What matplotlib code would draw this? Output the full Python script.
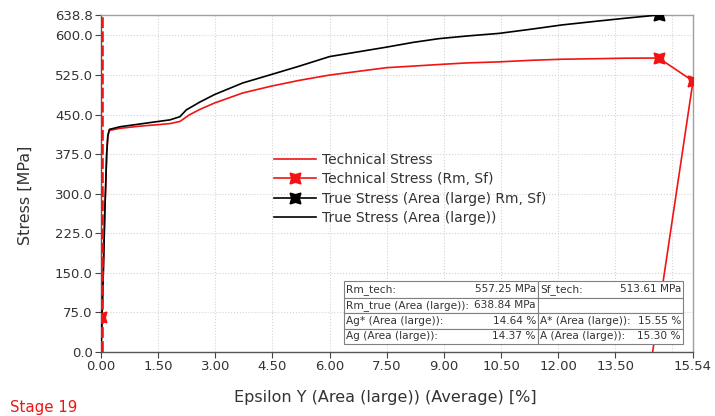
import matplotlib
matplotlib.use("Agg")
import matplotlib.pyplot as plt
from matplotlib.lines import Line2D
from matplotlib.patches import Rectangle

# ---------------- data ----------------
true_strain = [0, 0.03, 0.06, 0.10, 0.15, 0.18, 0.22, 0.5, 1.0, 1.5, 1.81, 2.07, 2.24, 2.6,
               2.98, 3.72, 4.47, 5.21, 6.0, 6.75, 7.5, 8.2, 8.87, 9.6, 10.45, 11.3, 12.1,
               13.0, 13.8, 14.64]
true_stress = [0, 75, 150, 265, 377, 410, 422, 427, 432, 437, 440, 446, 459, 474,
               488, 510, 526, 542, 560, 569, 578, 587, 594, 599, 604, 612, 620,
               627, 633, 638.84]

tech_strain = [0, 0.03, 0.06, 0.10, 0.15, 0.18, 0.22, 0.5, 1.0, 1.5, 1.81, 2.07, 2.33, 2.6,
               2.98, 3.72, 4.47, 5.21, 6.0, 6.75, 7.5, 8.2, 8.87, 9.6, 10.45, 11.3, 12.1,
               13.0, 13.8, 14.64]
tech_stress = [0, 75, 150, 265, 377, 410, 420, 424, 428, 431, 433, 437, 450, 460,
               472, 491, 504, 515, 525, 532, 539, 542, 545, 548, 550, 553, 555,
               556, 557, 557.25]

# Technical Stress (Rm, Sf): Rm -> Sf -> end of unloading line
rmsf_strain = [14.64, 15.54, 14.48]
rmsf_stress = [557.25, 513.61, 0]
start_marker_strain = [0.0]
start_marker_stress = [66]
true_rm_strain = [14.64]
true_rm_stress = [638.84]
dashed_strain = 0.02

x_ticks = [0, 1.5, 3.0, 4.5, 6.0, 7.5, 9.0, 10.5, 12.0, 13.5, 15.54]
x_grid = [1.5, 3.0, 4.5, 6.0, 7.5, 9.0, 10.5, 12.0, 13.5, 15.0]
y_ticks = [0, 75, 150, 225, 300, 375, 450, 525, 600, 638.84]
y_grid = [75, 150, 225, 300, 375, 450, 525, 600]

legend_labels = ["Technical Stress", "Technical Stress (Rm, Sf)",
                 "True Stress (Area (large) Rm, Sf)", "True Stress (Area (large))"]

table_rows = [
    ["Rm_tech:", "557.25 MPa", "Sf_tech:", "513.61 MPa"],
    ["Rm_true (Area (large)):", "638.84 MPa", "", ""],
    ["Ag* (Area (large)):", "14.64 %", "A* (Area (large)):", "15.55 %"],
    ["Ag (Area (large)):", "14.37 %", "A (Area (large)):", "15.30 %"],
]

# ---------------- style ----------------
RED = "#f01414"
TXT = "#333333"
plt.rcParams["font.family"] = ["DejaVu Sans"]

fig = plt.figure(figsize=(7.15, 4.16), dpi=100)
ax = fig.add_axes([101 / 715, 1 - 352 / 416, 592 / 715, 337 / 416])

for g in x_grid:
    ax.axvline(g, color="#d4d4d4", lw=0.8, ls=":", zorder=0)
for g in y_grid:
    ax.axhline(g, color="#d4d4d4", lw=0.8, ls=":", zorder=0)

mk = (4, 1, 45)
ax.plot(tech_strain, tech_stress, color=RED, lw=1.2, zorder=3)
ax.plot(true_strain, true_stress, color="black", lw=1.2, zorder=3)
ax.plot(rmsf_strain, rmsf_stress, color=RED, lw=1.2, marker=mk, markersize=11,
        markevery=[0, 1], zorder=4)
ax.plot(start_marker_strain, start_marker_stress, ls="none", color=RED, marker=mk,
        markersize=11, zorder=4)
ax.plot(true_rm_strain, true_rm_stress, ls="none", color="black", marker=mk,
        markersize=11, zorder=4)
ax.axvline(dashed_strain, color=RED, lw=2.6, ls=(0, (3, 0.9)), zorder=5)

ax.set_xlim(0, 15.54)
ax.set_ylim(0, 638.84)
ax.set_xticks(x_ticks)
ax.set_xticklabels([f"{v:.2f}" for v in x_ticks])
ax.set_yticks(y_ticks)
ax.set_yticklabels([f"{v:.1f}" for v in y_ticks])
ax.tick_params(axis="both", direction="out", length=4, width=0.8, colors="#444444",
               labelcolor=TXT, labelsize=9.5, pad=2)

for s in ["left", "bottom"]:
    ax.spines[s].set_color("#555555")
    ax.spines[s].set_linewidth(1.0)
for s in ["top", "right"]:
    ax.spines[s].set_color("#a0a0a0")
    ax.spines[s].set_linewidth(1.0)

ax.set_xlabel("Epsilon Y (Area (large)) (Average) [%]", fontsize=11.5, color=TXT)
ax.xaxis.set_label_coords(0.48, -0.113)
ax.set_ylabel("Stress [MPa]", fontsize=11.5, color=TXT)
ax.yaxis.set_label_coords(-0.115, 0.466)

handles = [
    Line2D([], [], color=RED, lw=1.2),
    Line2D([], [], color=RED, lw=1.2, marker=mk, markersize=11),
    Line2D([], [], color="black", lw=1.2, marker=mk, markersize=11),
    Line2D([], [], color="black", lw=1.2),
]
fig.legend(handles, legend_labels, loc="upper left", bbox_to_anchor=(274 / 715, 1 - 153 / 416),
           bbox_transform=fig.transFigure, frameon=False, fontsize=10, handlelength=3.0,
           handletextpad=0.45, labelspacing=0.38, borderpad=0, borderaxespad=0,
           labelcolor=TXT)

# ---------------- table ----------------
xl, xm, xr = (344 - 101) / 592, (538 - 101) / 592, (683 - 101) / 592
row_y = [(352 - 281) / 337, (352 - 297.5) / 337, (352 - 313) / 337,
         (352 - 328.5) / 337, (352 - 344) / 337]
pad = 2.0 / 592
for i, row in enumerate(table_rows):
    top, bot = row_y[i], row_y[i + 1]
    for (x0, x1), (lab, val) in zip([(xl, xm), (xm, xr)], [(row[0], row[1]), (row[2], row[3])]):
        ax.add_patch(Rectangle((x0, bot), x1 - x0, top - bot, transform=ax.transAxes,
                               facecolor="white", edgecolor="#808080", lw=0.8,
                               clip_on=False, zorder=6))
        yc = (top + bot) / 2
        if lab:
            ax.text(x0 + pad, yc, lab, transform=ax.transAxes, ha="left", va="center",
                    fontsize=7.6, color=TXT, zorder=7)
        if val:
            ax.text(x1 - pad, yc, val, transform=ax.transAxes, ha="right", va="center",
                    fontsize=7.6, color=TXT, zorder=7)

fig.text(10 / 715, 1 - 400 / 416, "Stage 19", color=RED, fontsize=10.8, ha="left", va="top")

fig.savefig("out.png", dpi=100)
